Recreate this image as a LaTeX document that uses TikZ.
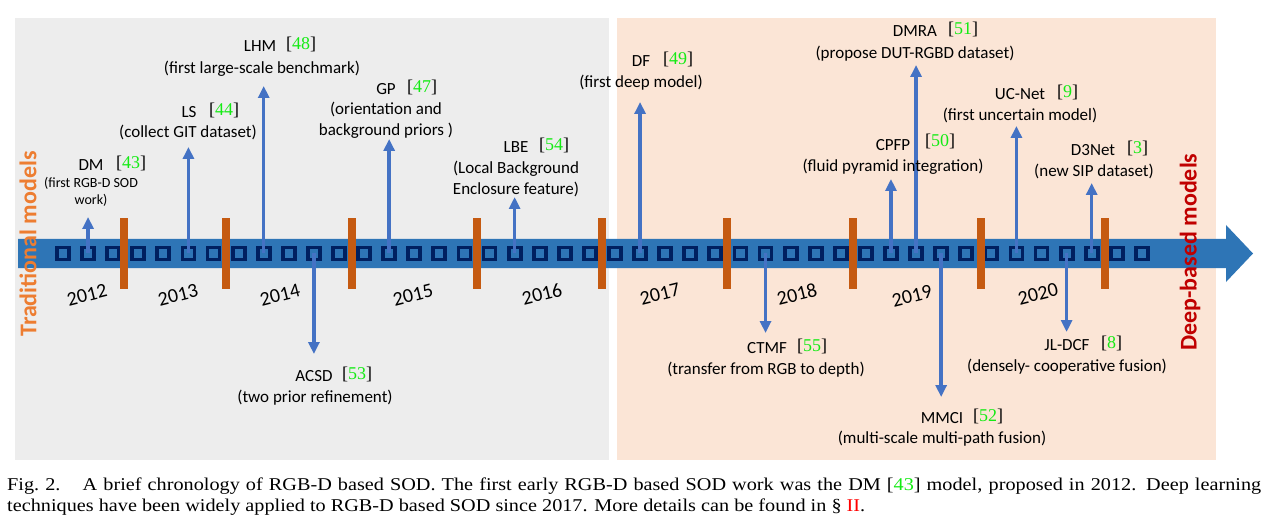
\documentclass[tikz,border=0pt]{standalone}
\usepackage{fontspec}
\setmainfont{Carlito}
\newfontfamily\tms{Liberation Serif}
\usetikzlibrary{arrows.meta,calc}
\definecolor{bandblue}{HTML}{2E75B6}
\definecolor{navy}{HTML}{002060}
\definecolor{arrblue}{HTML}{4472C4}
\definecolor{divorange}{HTML}{C55A11}
\definecolor{graybg}{HTML}{EDEDED}
\definecolor{peachbg}{HTML}{FBE5D6}
\definecolor{tradorange}{HTML}{ED7D31}
\definecolor{deepred}{HTML}{C00000}
\definecolor{citegreen}{RGB}{20,235,20}
\definecolor{capred}{RGB}{255,0,0}
\begin{document}
\begin{tikzpicture}[x=1pt,y=-1pt,
  sq/.style={draw=navy,line width=3.8pt,fill=bandblue,minimum size=12pt,inner sep=0pt},
  divider/.style={fill=divorange},
  arr/.style={draw=arrblue,line width=3.5pt,-{Triangle[length=12pt,width=11pt]}},
  ttl/.style={font=\fontsize{17}{20}\selectfont,anchor=base,inner sep=0pt},
  dsc/.style={font=\fontsize{17}{20}\selectfont,anchor=base,inner sep=0pt},
  sdsc/.style={font=\fontsize{14}{17}\selectfont,anchor=base,inner sep=0pt},
  cite/.style={font=\tms\fontsize{18}{18}\selectfont,anchor=base west,inner sep=0pt},
  yr/.style={font=\fontsize{20}{22}\selectfont,rotate=14,inner sep=0pt},
  side/.style={font=\bfseries\fontsize{24}{26}\selectfont,rotate=90,inner sep=0pt}
]
\useasboundingbox (0,0) rectangle (1276,529);
\fill[white] (0,0) rectangle (1276,529);
\fill[graybg] (15,18) rectangle (609,460);
\fill[peachbg] (617,18) rectangle (1216,460);
% timeline band
\fill[bandblue] (18,239) -- (1226,239) -- (1226,225) -- (1253,253.5) -- (1226,282) -- (1226,268) -- (18,268) -- cycle;
% squares
\foreach \i in {0,...,43} \node[sq] (s\i) at ({63+25.09*\i},253.5) {};
% dividers
\foreach \x in {124,226,352,477,602,727,853,981,1105} \fill[divider] (\x-4,218) rectangle (\x+4,289);
% arrows up
\draw[arr] (s1.center) -- (s1.center |- 0,217);
\draw[arr] (s5.center) -- (s5.center |- 0,147);
\draw[arr] (s8.center) -- (s8.center |- 0,86);
\draw[arr] (s13.center) -- (s13.center |- 0,139);
\draw[arr] (s18.center) -- (s18.center |- 0,197);
\draw[arr] (s23.center) -- (s23.center |- 0,102);
\draw[arr] (s33.center) -- (s33.center |- 0,179);
\draw[arr] (s34.center) -- (s34.center |- 0,65);
\draw[arr] (s38.center) -- (s38.center |- 0,126);
\draw[arr] (s41.center) -- (s41.center |- 0,183);
% arrows down
\draw[arr] (s10.center) -- (s10.center |- 0,354);
\draw[arr] (s28.center) -- (s28.center |- 0,333);
\draw[arr] (s35.center) -- (s35.center |- 0,397);
\draw[arr] (s40.center) -- (s40.center |- 0,332);
% years
\node[yr] (y12) at (87,295) {2012};
\node[yr] (y13) at (178,295) {2013};
\node[yr] (y14) at (280,295) {2014};
\node[yr] (y15) at (413,295) {2015};
\node[yr] (y16) at (542,294) {2016};
\node[yr] (y17) at (660,294) {2017};
\node[yr] (y18) at (797,294) {2018};
\node[yr] (y19) at (912,296) {2019};
\node[yr] (y20) at (1038,294) {2020};
% side labels
\node[side,text=tradorange] (trad) at (28,244) {Traditional models};
\node[side,text=deepred] (deep) at (1190,252) {Deep-based models};
% DM
\node[ttl] (dm) at (91,171) {DM};
\node[cite] (dmc) at (116,169) {[\textcolor{citegreen}{43}]};
\node[sdsc] (dmd1) at (91,188) {(first RGB-D SOD};
\node[sdsc] (dmd2) at (91,205) {work)};
% LS
\node[ttl] (ls) at (189,118) {LS};
\node[cite] (lsc) at (209,116) {[\textcolor{citegreen}{44}]};
\node[dsc] (lsd) at (188,138) {(collect GIT dataset)};
% LHM
\node[ttl] (lhm) at (260,52) {LHM};
\node[cite] (lhmc) at (286,50) {[\textcolor{citegreen}{48}]};
\node[dsc] (lhmd) at (262,74) {(first large-scale benchmark)};
% GP
\node[ttl] (gp) at (386,95) {GP};
\node[cite] (gpc) at (407,93) {[\textcolor{citegreen}{47}]};
\node[dsc] (gpd1) at (386,115) {(orientation and};
\node[dsc] (gpd2) at (386,136) {background priors )};
% LBE
\node[ttl] (lbe) at (516,153) {LBE};
\node[cite] (lbec) at (539,151) {[\textcolor{citegreen}{54}]};
\node[dsc] (lbed1) at (516,174) {(Local Background};
\node[dsc] (lbed2) at (516,195) {Enclosure feature)};
% DF
\node[ttl] (df) at (641,67) {DF};
\node[cite] (dfc) at (663,65) {[\textcolor{citegreen}{49}]};
\node[dsc] (dfd) at (641,88) {(first deep model)};
% DMRA
\node[ttl] (dmra) at (915,37) {DMRA};
\node[cite] (dmrac) at (948,35) {[\textcolor{citegreen}{51}]};
\node[dsc] (dmrad) at (915,59) {(propose DUT-RGBD dataset)};
% CPFP
\node[ttl] (cpfp) at (893,151) {CPFP};
\node[cite] (cpfpc) at (925,147) {[\textcolor{citegreen}{50}]};
\node[dsc] (cpfpd) at (893,172) {(fluid pyramid integration)};
% UC-Net
\node[ttl] (ucnet) at (1020,100) {UC-Net};
\node[cite] (ucnetc) at (1057,98) {[\textcolor{citegreen}{9}]};
\node[dsc] (ucnetd) at (1020,121) {(first uncertain model)};
% D3Net
\node[ttl] (d3net) at (1093,156) {D3Net};
\node[cite] (d3netc) at (1127,154) {[\textcolor{citegreen}{3}]};
\node[dsc] (d3netd) at (1094,177) {(new SIP dataset)};
% ACSD
\node[ttl] (acsd) at (314,381) {ACSD};
\node[cite] (acsdc) at (342,379) {[\textcolor{citegreen}{53}]};
\node[dsc] (acsdd) at (315,402) {(two prior refinement)};
% CTMF
\node[ttl] (ctmf) at (767,353) {CTMF};
\node[cite] (ctmfc) at (797,351) {[\textcolor{citegreen}{55}]};
\node[dsc] (ctmfd) at (766,374) {(transfer from RGB to depth)};
% MMCI
\node[ttl] (mmci) at (942,423) {MMCI};
\node[cite] (mmcic) at (973,421) {[\textcolor{citegreen}{52}]};
\node[dsc] (mmcid) at (942,443) {(multi-scale multi-path fusion)};
% JL-DCF
\node[ttl] (jldcf) at (1067,350) {JL-DCF};
\node[cite] (jldcfc) at (1101,348) {[\textcolor{citegreen}{8}]};
\node[dsc] (jldcfd) at (1067,371) {(densely- cooperative fusion)};
% caption
\node[anchor=base west,inner sep=0pt] (cap) at (7,490) {\scalebox{1.124}[1]{\parbox[t]{1115.7pt}{\tms\fontsize{18}{21.7}\selectfont\hyphenpenalty=10000 Fig.~2.\hspace{1.1em}A brief chronology of RGB-D based SOD. The first early RGB-D based SOD work was the DM [\textcolor{citegreen}{43}] model, proposed in 2012. Deep learning\linebreak techniques have been widely applied to RGB-D based SOD since 2017. More details can be found in \S~\textcolor{capred}{II}.}}};
\end{tikzpicture}
\end{document}
